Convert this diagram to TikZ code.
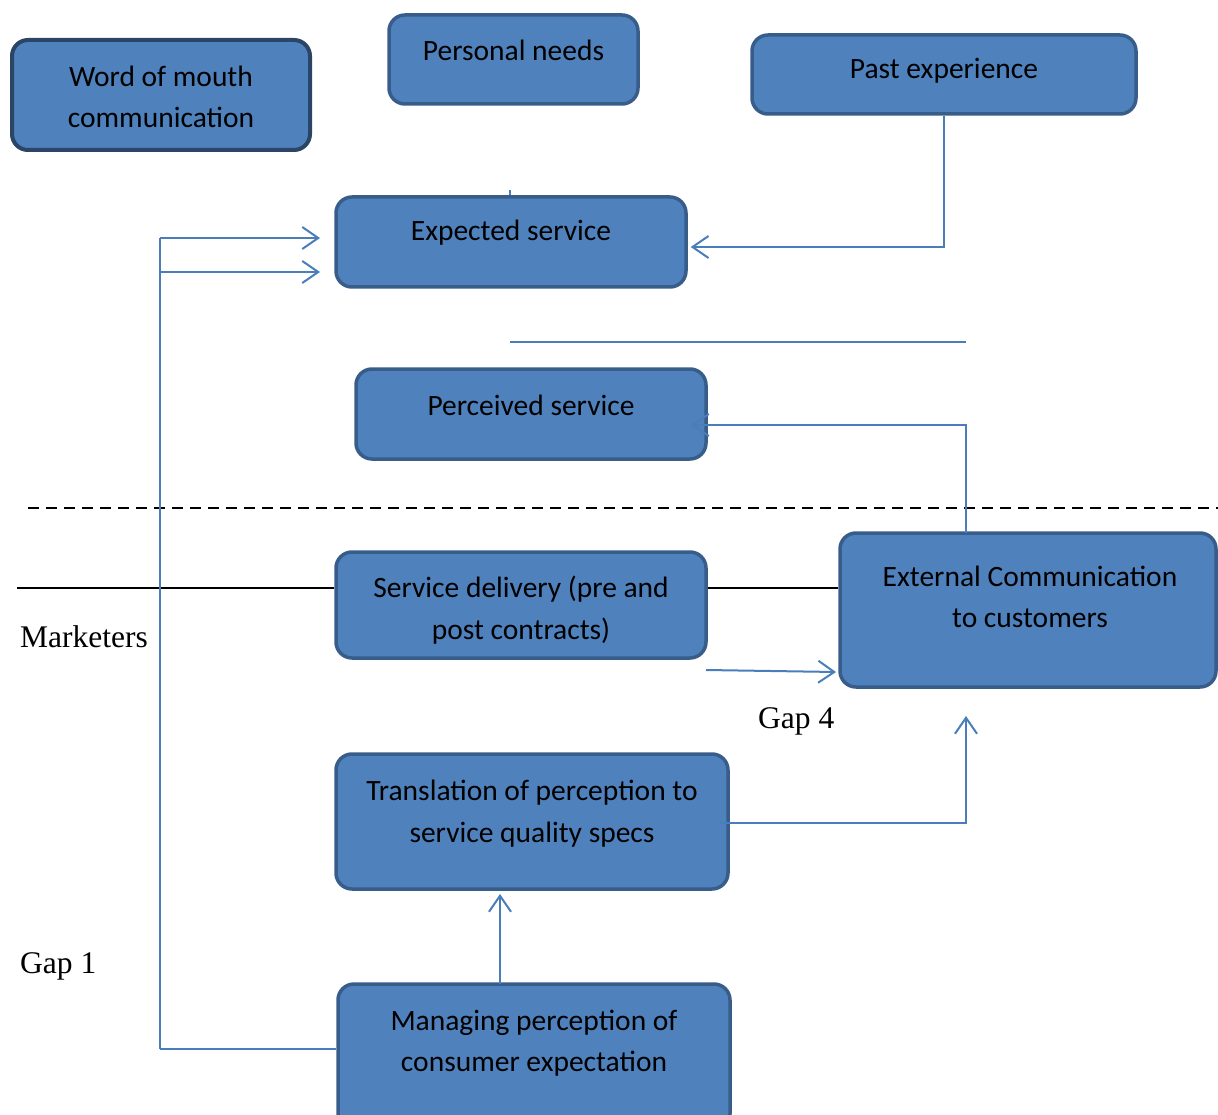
\documentclass[tikz,border=0pt]{standalone}
\usepackage{fontspec}
\newfontfamily\boxfont{Carlito}
\newfontfamily\lblfont{Liberation Serif}
\usetikzlibrary{arrows.meta}
\definecolor{boxfill}{HTML}{4F81BD}
\definecolor{boxline}{HTML}{385D8A}
\definecolor{boxdark}{HTML}{2A4566}
\definecolor{connc}{HTML}{4A7EBB}
\tikzset{
  box/.style={draw=boxline, fill=boxfill, line width=3.5pt, rounded corners=16pt, inner sep=0pt},
  btext/.style={font=\boxfont\fontsize{29.5}{41.5}\selectfont, align=center, inner sep=0pt, text=black},
  lbl/.style={font=\lblfont\fontsize{31.5}{36}\selectfont, inner sep=0pt, anchor=west, text=black},
  conn/.style={draw=connc, line width=2pt},
  arr/.style={conn, -{Straight Barb[length=16pt,width=22pt,line width=2pt]}},
  blk/.style={draw=black, line width=2pt},
}
\begin{document}
\begin{tikzpicture}[x=1pt,y=-1pt]
\useasboundingbox (0,0) rectangle (1218,1115);
% boxes
\node[box, draw=boxdark, line width=4pt, minimum width=298pt, minimum height=110pt] (wom) at (161,95) {};
\node[btext] (womt) at (161,97) {Word of mouth\\communication};
\node[box, minimum width=249pt, minimum height=89pt] (pn) at (513.5,59.5) {};
\node[btext] (pnt) at (513.5,50) {Personal needs};
\node[box, minimum width=384pt, minimum height=79pt] (pe) at (944,74.5) {};
\node[btext] (pet) at (944,71) {Past experience};
\node[box, minimum width=350pt, minimum height=90pt] (es) at (511,242) {};
\node[btext] (est) at (511,233) {Expected service};
\node[box, minimum width=350pt, minimum height=90pt] (ps) at (531,414) {};
\node[btext] (pst) at (531,405) {Perceived service};
\node[box, minimum width=370pt, minimum height=106pt] (sd) at (521,605) {};
\node[btext] (sdt) at (521,610) {Service delivery (pre and\\post contracts)};
\node[box, minimum width=376pt, minimum height=154pt] (ec) at (1028,610) {};
\node[btext] (ect) at (1030,597) {External Communication\\to customers};
\node[box, minimum width=392pt, minimum height=135pt] (tr) at (532,821.5) {};
\node[btext] (trt) at (532,813.5) {Translation of perception to\\service quality specs};
\node[box, minimum width=392pt, minimum height=146pt] (mp) at (534,1057) {};
\node[btext] (mpt) at (534,1043) {Managing perception of\\consumer expectation};
% labels
\node[lbl] (mk) at (20,636.5) {Marketers};
\node[lbl] (g4) at (758,721) {Gap 4};
\node[lbl] (g1) at (20,966) {Gap 1};
% coordinates
\coordinate (tick) at (510,190);
\coordinate (esin1) at (320,238);
\coordinate (esin2) at (320,272);
\coordinate (lt1) at (160,238);
\coordinate (lt2) at (160,272);
\coordinate (lb) at (160,1049);
\coordinate (hl1) at (510,342);
\coordinate (hl2) at (966,342);
\coordinate (ectop) at (966,533);
\coordinate (psin) at (691,425);
\coordinate (sdout) at (706,670);
\coordinate (ecin) at (836,672);
\coordinate (trout) at (720,823);
\coordinate (ecin2) at (966,716);
\coordinate (mpout) at (500,984);
\coordinate (trin) at (500,894);
\coordinate (bl) at (17,588);
\coordinate (dl1) at (28,508);
\coordinate (dl2) at (1218,508);
% lines
\draw[blk, dash pattern=on 11pt off 7pt, line width=2.5pt] (dl1) -- (dl2);
\draw[blk] (bl) -- (bl -| sd.west);
\draw[blk] (sd.east |- bl) -- (bl -| ec.west);
\draw[conn] (tick) -- (es.north -| tick);
\draw[conn] (lb) -- (lt1);
\draw[arr] (lt1) -- (esin1);
\draw[arr] (lt2) -- (esin2);
\draw[conn] ([yshift=8pt]mp.west) -- (lb);
\draw[arr] (pe.south) |- ([xshift=3pt,yshift=-5pt]es.east);
\draw[conn] (hl1) -- (hl2);
\draw[arr] (ectop) |- (psin);
\draw[arr] (sdout) -- (ecin);
\draw[arr] (trout) -| (ecin2);
\draw[arr] (mpout) -- (trin);
\end{tikzpicture}
\end{document}
